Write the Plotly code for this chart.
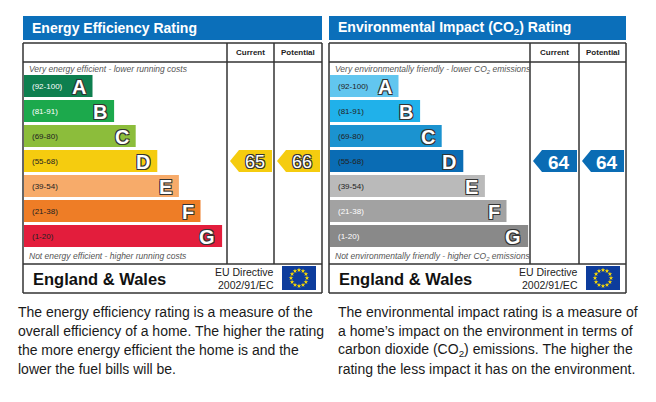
import math
import plotly.graph_objects as go

# EPC bands (shared by both ratings)
bands = ['A', 'B', 'C', 'D', 'E', 'F', 'G']
band_ranges = ['(92-100)', '(81-91)', '(69-80)', '(55-68)', '(39-54)', '(21-38)', '(1-20)']
band_floor = [92, 81, 69, 55, 39, 21, 1]

# ratings for this home
eer_current = 65
eer_potential = 66
eir_current = 64
eir_potential = 64

eer_colors = ['#0e7f4f', '#1ca94c', '#8cbd3b', '#f5cc0f', '#f7ab6a', '#ee7d26', '#e31d3c']
eir_colors = ['#62c6ef', '#20b1ea', '#1b93d0', '#0a6cb4', '#bababa', '#a2a2a2', '#898989']
eer_label_white = [True, True, False, False, False, False, False]
eir_label_white = [False, False, False, False, False, True, True]

eer_text = ['The energy efficiency rating is a measure of the',
            'overall efficiency of a home. The higher the rating',
            'the more energy efficient the home is and the',
            'lower the fuel bills will be.']
eir_text = ['The environmental impact rating is a measure of',
            'a home\u2019s impact on the environment in terms of',
            'carbon dioxide (CO<sub>2</sub>) emissions. The higher the',
            'rating the less impact it has on the environment.']

FONT = 'Arial, Liberation Sans, sans-serif'
LINE = '#333333'
OUTLINE = '1px 1px 0 #333, -1px -1px 0 #333, 1px -1px 0 #333, -1px 1px 0 #333'

fig = go.Figure()
shapes = []
annotations = []


def band_of(rating):
    for i, lo in enumerate(band_floor):
        if rating >= lo:
            return i
    return len(bands) - 1


def add_panel(x0, x1, c1, c2, title, top_txt, bottom_txt, colors, label_white,
              current, potential, arrow_outline, text_lines, text_x):
    # header bar
    shapes.append(dict(type='rect', x0=x0, x1=x1, y0=16, y1=40,
                       fillcolor='#0b6fba', line_width=0, layer='below'))
    annotations.append(dict(x=x0 + 7, y=28, text='<b>' + title + '</b>', showarrow=False,
                            xanchor='left', font=dict(family=FONT, size=14, color='white')))
    # frame
    for (a, b, c, d) in [(x0, 43, x1, 43), (x0, 293, x1, 293), (x0, 43, x0, 293),
                         (x1, 43, x1, 293), (x0, 62, x1, 62), (x0, 264, x1, 264),
                         (c1, 43, c1, 264), (c2, 43, c2, 264)]:
        shapes.append(dict(type='line', x0=a, y0=b, x1=c, y1=d,
                           line=dict(color=LINE, width=1.5)))
    annotations.append(dict(x=(c1 + c2) / 2, y=52, text='<b>Current</b>', showarrow=False,
                            font=dict(family=FONT, size=8, color='#222')))
    annotations.append(dict(x=(c2 + x1) / 2, y=52, text='<b>Potential</b>', showarrow=False,
                            font=dict(family=FONT, size=8, color='#222')))
    annotations.append(dict(x=x0 + 4, y=69, text='<i>' + top_txt + '</i>', showarrow=False,
                            xanchor='left', font=dict(family=FONT, size=8.5, color='#555')))
    annotations.append(dict(x=x0 + 4, y=256, text='<i>' + bottom_txt + '</i>', showarrow=False,
                            xanchor='left', font=dict(family=FONT, size=8.5, color='#555')))

    # band bars
    ys = [86 + 25 * i for i in range(len(bands))]
    lens = [68.5 + 21.6 * i for i in range(len(bands))]
    fig.add_trace(go.Bar(orientation='h', y=ys, x=lens, base=x0 + 1, width=22,
                         marker=dict(color=colors, line_width=0), hoverinfo='skip',
                         showlegend=False))
    for i, b in enumerate(bands):
        annotations.append(dict(x=x0 + 7, y=ys[i], text=band_ranges[i], showarrow=False,
                                xanchor='left',
                                font=dict(family=FONT, size=8,
                                          color='white' if label_white[i] else '#222')))
        annotations.append(dict(x=x0 + lens[i] - 4, y=ys[i] + 1, text='<b>' + b + '</b>',
                                showarrow=False, xanchor='right',
                                font=dict(family=FONT, size=20, color='white',
                                          shadow=OUTLINE)))

    # rating arrows
    for val, ca, cb in [(current, c1, c2), (potential, c2, x1)]:
        k = band_of(val)
        yc = ys[k]
        xl, xr = ca + 3, cb - 2
        fig.add_trace(go.Scatter(x=[xl, xl + 9, xr, xr, xl + 9, xl],
                                 y=[yc, yc - 11, yc - 11, yc + 11, yc + 11, yc],
                                 fill='toself', fillcolor=colors[k], mode='lines',
                                 line=dict(width=0, color=colors[k]), hoverinfo='skip',
                                 showlegend=False))
        if arrow_outline:
            f = dict(family=FONT, size=18, color='white', shadow=OUTLINE)
            t = str(val)
        else:
            f = dict(family=FONT, size=19, color='white')
            t = '<b>' + str(val) + '</b>'
        annotations.append(dict(x=(xl + 9 + xr) / 2 - 1, y=yc + 1, text=t, showarrow=False,
                                font=f))

    # footer
    annotations.append(dict(x=x0 + 8, y=279, text='<b>England &amp; Wales</b>', showarrow=False,
                            xanchor='left', font=dict(family=FONT, size=16.5, color='#111')))
    annotations.append(dict(x=x1 - 46, y=272, text='EU Directive', showarrow=False,
                            xanchor='right', font=dict(family=FONT, size=10.5, color='#222')))
    annotations.append(dict(x=x1 - 46, y=285, text='2002/91/EC', showarrow=False,
                            xanchor='right', font=dict(family=FONT, size=10.5, color='#222')))
    fx0, fx1, fy0, fy1 = x1 - 40, x1 - 6, 266, 290
    shapes.append(dict(type='rect', x0=fx0, x1=fx1, y0=fy0, y1=fy1,
                       fillcolor='#0d3c9c', line_width=0, layer='below'))
    cx, cy = (fx0 + fx1) / 2, (fy0 + fy1) / 2
    sx = [cx + 8 * math.cos(2 * math.pi * j / 12) for j in range(12)]
    sy = [cy + 8 * math.sin(2 * math.pi * j / 12) for j in range(12)]
    fig.add_trace(go.Scatter(x=sx, y=sy, mode='markers', hoverinfo='skip', showlegend=False,
                             marker=dict(symbol='star', size=3.5, color='#ffdd00',
                                         line_width=0)))

    # description
    for i, line in enumerate(text_lines):
        annotations.append(dict(x=text_x, y=312 + 19 * i, text=line, showarrow=False,
                                xanchor='left', font=dict(family=FONT, size=14, color='#1a1a1a')))


add_panel(23, 322, 227, 274, 'Energy Efficiency Rating',
          'Very energy efficient - lower running costs',
          'Not energy efficient - higher running costs',
          eer_colors, eer_label_white, eer_current, eer_potential, True, eer_text, 16)
add_panel(329, 626, 530, 579, 'Environmental Impact (CO<sub>2</sub>) Rating',
          'Very environmentally friendly - lower CO<sub>2</sub> emissions',
          'Not environmentally friendly - higher CO<sub>2</sub> emissions',
          eir_colors, eir_label_white, eir_current, eir_potential, False, eir_text, 336)

fig.update_layout(
    width=656, height=402, margin=dict(l=0, r=0, t=0, b=0),
    paper_bgcolor='white', plot_bgcolor='white', barmode='overlay',
    xaxis=dict(range=[0, 656], visible=False, fixedrange=True),
    yaxis=dict(range=[402, 0], visible=False, fixedrange=True),
    shapes=shapes, annotations=annotations, showlegend=False,
)

fig.write_html("out.html", config={'displayModeBar': False},
               post_script="document.body.style.margin='0';")
